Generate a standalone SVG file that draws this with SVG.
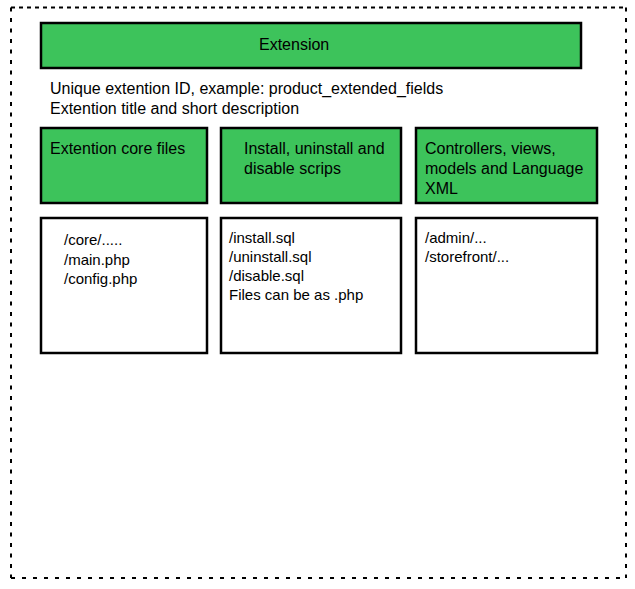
<svg xmlns="http://www.w3.org/2000/svg" width="635" height="589" viewBox="0 0 635 589">
<style>
.g{fill:#3dc35b;stroke:#000;stroke-width:2.5}
.w{fill:#fff;stroke:#000;stroke-width:2.5}
.d{fill:none;stroke:#000;stroke-width:2}
text{font-family:"Liberation Sans",Arial,sans-serif;font-size:16px;fill:#000}
.s{font-size:15px}
</style>
<rect width="635" height="589" fill="#fff"/>
<g id="frame">
<path class="d" d="M11,7.5 H626" stroke-dasharray="4,4"/>
<path class="d" d="M11,7.5 V578" stroke-dasharray="4,6.5"/>
<path class="d" d="M626,7.5 V578" stroke-dasharray="4,6.5"/>
<path class="d" d="M11,578 H626" stroke-dasharray="4,7"/>
</g>
<g id="extension">
<rect class="g" x="41" y="23" width="540" height="45"/>
<text x="259" y="50">Extension</text>
</g>
<g id="description">
<text x="50" y="94">Unique extention ID, example: product_extended_fields</text>
<text x="50" y="114">Extention title and short description</text>
</g>
<g id="core">
<rect class="g" x="41" y="128" width="166" height="75"/>
<text x="50" y="154">Extention core files</text>
</g>
<g id="install">
<rect class="g" x="221" y="128" width="180" height="75"/>
<text x="244" y="154">Install, uninstall and</text>
<text x="244" y="174">disable scrips</text>
</g>
<g id="mvc">
<rect class="g" x="416" y="128" width="181" height="75"/>
<text x="425" y="154">Controllers, views,</text>
<text x="425" y="174">models and Language</text>
<text x="425" y="194">XML</text>
</g>
<g id="core-files">
<rect class="w" x="41" y="218" width="166" height="135"/>
<text class="s" x="64" y="245">/core/.....</text>
<text class="s" x="64" y="265">/main.php</text>
<text class="s" x="64" y="284">/config.php</text>
</g>
<g id="install-files">
<rect class="w" x="221" y="218" width="180" height="135"/>
<text class="s" x="229" y="243">/install.sql</text>
<text class="s" x="229" y="262">/uninstall.sql</text>
<text class="s" x="229" y="281">/disable.sql</text>
<text class="s" x="229" y="300">Files can be as .php</text>
</g>
<g id="mvc-files">
<rect class="w" x="416" y="218" width="181" height="135"/>
<text class="s" x="425" y="243">/admin/...</text>
<text class="s" x="425" y="262">/storefront/...</text>
</g>
<g id="connectors"></g>
</svg>
